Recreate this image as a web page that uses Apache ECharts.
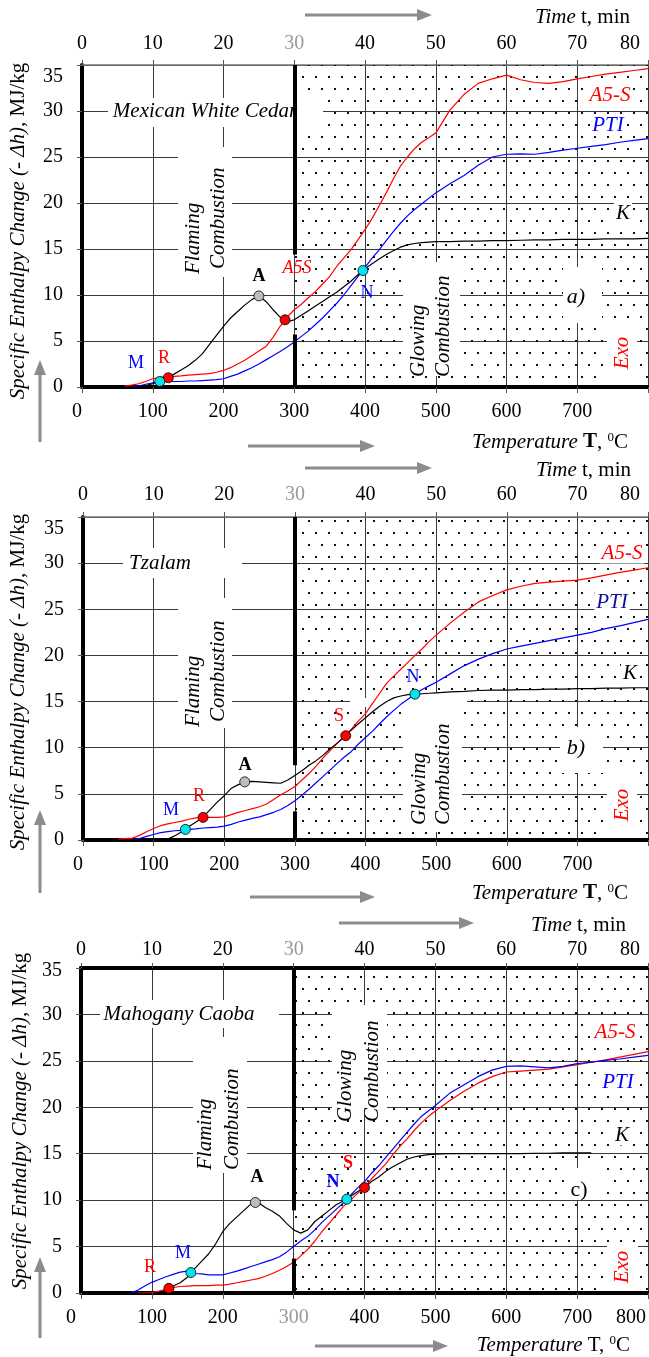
<!DOCTYPE html>
<html>
<head>
<meta charset="utf-8">
<script src="https://cdn.jsdelivr.net/npm/echarts@6.0.0/dist/echarts.min.js"></script>
<style>
html,body{margin:0;padding:0;background:#fff}
#main{width:649px;height:1357px}
</style>
</head>
<body>
<div id="main"></div>
<script>
var FONT = '"Liberation Serif","Times New Roman",serif';

// temperature grid, degC (shared by all three panels)
var temps = [50,60,70,80,90,100,110,120,130,140,
  150,160,170,180,190,200,210,220,230,240,
  250,260,270,280,290,300,310,320,330,340,
  350,360,370,380,390,400,410,420,430,440,
  450,460,470,480,490,500,520,
  540,560,580,600,620,640,660,680,700,720,740,760,780,800];

// a) Mexican White Cedar
var a5sA = [null,0.1,0.2,0.35,0.6,0.9,1.05,1.1,1.15,1.2,
  1.3,1.35,1.4,1.45,1.6,1.8,2.1,2.5,2.9,3.4,
  3.9,4.4,5.4,6.6,7.6,8.4,9.0,9.7,10.4,11.2,
  12.0,13.1,14.0,14.9,16.0,17.1,18.3,19.7,21.1,22.6,
  24.0,25.0,25.9,26.6,27.1,27.6,30.1,
  31.8,33.0,33.5,33.9,33.4,33.1,33.0,33.2,33.5,33.75,34.0,34.2,34.4,34.6];
var ptiA = [null,null,0.0,0.1,0.3,0.45,0.55,0.6,0.6,0.6,
  0.65,0.65,0.7,0.75,0.8,0.9,1.15,1.4,1.75,2.1,
  2.5,2.95,3.4,3.85,4.35,4.9,5.5,6.1,6.8,7.5,
  8.3,9.1,10.0,11.0,12.0,13.0,14.0,14.9,15.9,16.9,
  17.8,18.6,19.3,19.9,20.5,21.1,22.1,
  23.0,24.1,25.0,25.3,25.35,25.3,25.5,25.75,25.95,26.15,26.35,26.6,26.8,27.0];
var kA = [null,null,null,0.0,0.15,0.35,0.6,1.0,1.4,1.85,
  2.3,2.9,3.6,4.6,5.6,6.6,7.5,8.2,8.9,9.5,
  9.9,9.3,8.4,7.6,7.1,7.3,7.8,8.3,8.8,9.3,
  9.8,10.3,10.9,11.5,12.2,12.85,13.4,13.9,14.4,14.8,
  15.2,15.45,15.6,15.7,15.75,15.8,15.8,
  15.85,15.85,15.9,15.9,15.95,16.0,16.0,16.05,16.05,16.05,16.1,16.1,16.1,16.15];
var grayPtsA = [[250,9.9]];
var redPtsA = [[122,1.0],[287,7.3]];
var cyanPtsA = [[110,0.6],[397,12.66]];

// b) Tzalam
var a5sB = [0.1,0.15,0.2,0.5,0.9,1.25,1.55,1.75,1.9,2.05,
  2.25,2.4,2.45,2.45,2.45,2.5,2.75,3.0,3.2,3.4,
  3.6,3.9,4.4,4.9,5.3,5.8,6.5,7.2,8.0,8.9,
  9.7,10.5,11.2,12.0,12.9,13.7,14.8,15.9,17.0,17.75,
  18.5,19.25,20.0,20.7,21.5,22.2,23.5,
  24.7,25.8,26.5,27.1,27.5,27.8,27.95,28.05,28.15,28.4,28.7,29.0,29.25,29.5];
var ptiB = [null,null,0.0,0.15,0.4,0.6,0.8,0.9,1.0,1.05,
  1.15,1.2,1.3,1.35,1.4,1.5,1.7,1.95,2.15,2.35,
  2.5,2.75,3.0,3.3,3.75,4.25,4.85,5.5,6.2,6.9,
  7.6,8.3,9.0,9.6,10.4,11.1,11.8,12.6,13.35,14.05,
  14.7,15.25,15.8,16.3,16.7,17.1,18.0,
  18.9,19.6,20.2,20.7,21.0,21.3,21.6,21.9,22.2,22.5,22.9,23.2,23.55,23.9];
var kB = [null,null,0.0,-0.1,-0.15,-0.1,-0.05,0.1,0.45,0.9,
  1.45,1.95,2.5,3.3,4.1,4.8,5.6,6.0,6.3,6.35,
  6.3,6.25,6.2,6.15,6.5,7.0,7.5,8.1,8.6,9.2,
  9.9,10.5,11.2,11.9,12.6,13.25,13.9,14.5,15.0,15.4,
  15.6,15.75,15.8,15.85,15.9,15.95,16.05,
  16.1,16.2,16.25,16.25,16.3,16.3,16.35,16.35,16.4,16.4,16.45,16.45,16.5,16.5];
var grayPtsB = [[229,6.3]];
var redPtsB = [[170,2.45],[372,11.3]];
var cyanPtsB = [[145,1.15],[470,15.8]];

// c) Mahogany Caoba
var a5sC = [null,null,null,0.0,0.0,0.05,0.2,0.4,0.6,0.7,
  0.75,0.8,0.8,0.8,0.85,0.85,0.95,1.1,1.25,1.4,
  1.55,1.8,2.1,2.45,2.85,3.3,4.0,4.7,5.6,6.6,
  7.5,8.4,9.3,10.0,10.7,11.35,12.3,13.1,13.9,14.9,
  15.8,16.6,17.5,18.3,19.0,19.6,20.7,
  21.7,22.6,23.3,23.8,23.9,24.0,24.1,24.35,24.6,24.85,25.1,25.4,25.7,26.0];
var ptiC = [null,null,0.0,0.3,0.75,1.15,1.45,1.75,2.0,2.25,
  2.35,2.1,2.05,1.95,1.95,1.95,2.15,2.35,2.6,2.85,
  3.1,3.35,3.6,3.9,4.4,5.0,5.6,6.1,6.8,7.6,
  8.3,9.0,9.7,10.5,11.3,12.0,12.9,13.7,14.6,15.5,
  16.4,17.3,18.2,19.0,19.6,20.2,21.5,
  22.4,23.3,24.0,24.4,24.45,24.35,24.25,24.4,24.7,24.85,25.05,25.2,25.4,25.6];
var kC = [null,null,null,null,null,null,0.0,0.35,0.75,1.1,
  1.7,2.6,3.4,4.2,5.3,6.6,7.5,8.2,8.9,9.6,
  9.75,9.2,8.8,8.3,7.5,6.8,6.45,6.8,7.7,8.3,
  8.9,9.5,9.9,10.4,10.9,11.35,12.0,12.5,13.1,13.6,
  14.0,14.4,14.65,14.8,14.9,14.95,15.0,
  15.0,15.0,15.0,15.0,15.0,15.05,15.05,15.1,15.1,15.1,null,null,null,null];
var grayPtsC = [[246,9.75]];
var redPtsC = [[124,0.5],[400,11.35]];
var cyanPtsC = [[155,2.2],[375,10.1]];

function pairs(vals) {
  return temps.map(function (t, i) { return [t, vals[i] == null ? '-' : vals[i]]; });
}

// dotted fill for the glowing zone
var dot = document.createElement('canvas');
dot.width = 13; dot.height = 24;
var g = dot.getContext('2d');
g.fillStyle = '#111';
g.fillRect(3, 4, 2, 2);
g.fillRect(9, 16, 2, 2);

var panels = [
  {grid: {left: 82, top: 65, width: 566, height: 322}, a5s: a5sA, pti: ptiA, k: kA,
   gray: grayPtsA, red: redPtsA, cyan: cyanPtsA, divider: [[35, 14.4], [5.7, 0]],
   thickTop: false, show800: false, gray300: false, pad35: 24, topMargin: 11, pad0: 10},
  {grid: {left: 83, top: 517, width: 565, height: 323}, a5s: a5sB, pti: ptiB, k: kB,
   gray: grayPtsB, red: redPtsB, cyan: cyanPtsB, divider: [[35, 8.1], [3.1, 0]],
   thickTop: false, show800: false, gray300: false, pad35: 24, topMargin: 12, pad0: 10},
  {grid: {left: 81, top: 968, width: 567, height: 325}, a5s: a5sC, pti: ptiC, k: kC,
   gray: grayPtsC, red: redPtsC, cyan: cyanPtsC, divider: [[35, 8.9], [3.7, 0]],
   thickTop: true, show800: true, gray300: true, pad35: 6, topMargin: 8, pad0: 20}
];

function tok(pad) {
  return {fontFamily: FONT, fontSize: 20, color: '#000', padding: pad};
}

var grids = [], xAxes = [], yAxes = [], series = [];
panels.forEach(function (p, i) {
  var gr = Object.assign({outerBoundsMode: 'none', containLabel: false}, p.grid);
  grids.push(gr);
  xAxes.push({
    gridIndex: i, type: 'value', min: 0, max: 800, interval: 100, position: 'bottom',
    axisLine: {lineStyle: {color: '#000', width: 4}},
    axisTick: {length: 6, lineStyle: {color: '#555'}},
    splitLine: {show: true, lineStyle: {color: '#3a3a3a', width: 1}},
    axisLabel: {fontFamily: FONT, fontSize: 20, margin: 15,
      formatter: function (v) {
        if (v === 800) return p.show800 ? '{e|800}' : '';
        if (v === 0) return '{z|0}';
        return String(v);
      },
      rich: {e: tok([0, 34, 0, 0]), z: tok([0, p.pad0, 0, 0])},
      color: function (v) { return (p.gray300 && +v === 300) ? '#999' : '#000'; }}
  });
  xAxes.push({
    gridIndex: i, type: 'value', min: 0, max: 80, interval: 10, position: 'top',
    axisLine: {lineStyle: p.thickTop ? {color: '#000', width: 4} : {color: '#777', width: 1.5}},
    axisTick: {length: 5, lineStyle: {color: '#555'}},
    splitLine: {show: false},
    axisLabel: {fontFamily: FONT, fontSize: 20, margin: p.topMargin,
      formatter: function (v) { return v === 80 ? '{e|80}' : String(v); },
      rich: {e: tok([0, 36, 0, 0])},
      color: function (v) { return +v === 30 ? '#999' : '#000'; }}
  });
  yAxes.push({
    gridIndex: i, type: 'value', min: 0, max: 35, interval: 5,
    axisLine: {show: true, lineStyle: {color: '#000', width: 4}},
    axisTick: {show: true, length: 5, lineStyle: {color: '#555'}},
    splitLine: {show: true, lineStyle: {color: '#3a3a3a', width: 1}},
    axisLabel: {fontFamily: FONT, fontSize: 20, margin: 19, color: '#000',
      formatter: function (v) { return v === 35 ? '{t|35}' : String(v); },
      rich: {t: tok([p.pad35, 0, 0, 0])}}
  });
  var xi = 2 * i;
  series.push({
    type: 'line', xAxisIndex: xi, yAxisIndex: i, data: [], z: 1, silent: true,
    markArea: {silent: true, itemStyle: {color: {image: dot, repeat: 'repeat'}},
      label: {show: false},
      data: [[{coord: [300, 0]}, {coord: [800, 35]}]]},
    markLine: {silent: true, symbol: ['none', 'none'], label: {show: false},
      lineStyle: {color: '#000', width: 4, type: 'solid'},
      data: p.divider.map(function (d) { return [{coord: [300, d[0]]}, {coord: [300, d[1]]}]; })}
  });
  [['A5-S', p.a5s, '#ff0000'], ['PTI', p.pti, '#0000ff'], ['K', p.k, '#000000']].forEach(function (s) {
    series.push({name: s[0], type: 'line', xAxisIndex: xi, yAxisIndex: i, data: pairs(s[1]),
      showSymbol: false, symbol: 'none', z: 3, silent: true,
      lineStyle: {color: s[2], width: 1.2}});
  });
  [[p.gray, '#bdbdbd'], [p.red, '#ff0000'], [p.cyan, '#00e5ee']].forEach(function (s) {
    series.push({type: 'scatter', xAxisIndex: xi, yAxisIndex: i, data: s[0], z: 4, silent: true,
      symbolSize: 10, itemStyle: {color: s[1], borderColor: '#000', borderWidth: 0.8, opacity: 1}});
  });
});

// annotation helpers
function box(x1, y1, x2, y2) {
  return {type: 'rect', z: 2, silent: true, shape: {x: x1, y: y1, width: x2 - x1, height: y2 - y1},
    style: {fill: '#fff'}};
}
function label(s, x, y, o) {
  o = o || {};
  var st = {text: s, fill: o.color || '#000',
    font: (o.italic ? 'italic ' : '') + (o.bold ? 'bold ' : '') + (o.size || 21) + 'px ' + FONT,
    textAlign: o.align || 'center', textVerticalAlign: 'middle'};
  if (o.bg) { st.backgroundColor = '#fff'; st.padding = [0, 2]; }
  return {type: 'text', x: x, y: y, rotation: o.rot ? Math.PI / 2 : 0, z: 5, silent: true, style: st};
}
var richStyles = {
  i: {fontStyle: 'italic', fontSize: 21, fontFamily: FONT, fill: '#000'},
  n: {fontSize: 21, fontFamily: FONT, fill: '#000'},
  b: {fontWeight: 'bold', fontSize: 21, fontFamily: FONT, fill: '#000'},
  s: {fontSize: 13, fontFamily: FONT, fill: '#000', verticalAlign: 'top', padding: [0, 0, 8, 0]}
};
function richText(s, x, y, align, rot) {
  return {type: 'text', x: x, y: y, rotation: rot ? Math.PI / 2 : 0, z: 5, silent: true,
    style: {text: s, rich: richStyles, font: '21px ' + FONT, fill: '#000',
      textAlign: align, textVerticalAlign: 'middle'}};
}
function arrowH(x1, x2, y) {
  return [{type: 'polyline', z: 5, silent: true, shape: {points: [[x1, y], [x2 - 12, y]]},
      style: {stroke: '#8c8c8c', lineWidth: 3}},
    {type: 'polygon', z: 5, silent: true, shape: {points: [[x2 - 15, y - 6], [x2, y], [x2 - 15, y + 6]]},
      style: {fill: '#8c8c8c'}}];
}
function arrowUp(x, yTip, yBottom) {
  return [{type: 'polyline', z: 5, silent: true, shape: {points: [[x, yBottom], [x, yTip + 12]]},
      style: {stroke: '#8c8c8c', lineWidth: 3}},
    {type: 'polygon', z: 5, silent: true, shape: {points: [[x - 6, yTip + 15], [x, yTip], [x + 6, yTip + 15]]},
      style: {fill: '#8c8c8c'}}];
}

var RED = '#ff0000', BLUE = '#0000ff';
var yName = '{i|Specific Enthalpy Change (- Δh), }{n|MJ/kg}';
var timeName = '{i|Time}{n| t, min}';
var els = [];

// panel a
els.push(box(108, 98, 323, 127), box(178, 147, 232, 277), box(563, 267, 602, 323),
  box(403, 262, 460, 376), box(607, 322, 637, 384));
els.push(label('Mexican White Cedar', 205, 111, {italic: true}),
  label('Flaming', 193, 274, {italic: true, rot: true, align: 'left'}),
  label('Combustion', 218, 269, {italic: true, rot: true, align: 'left'}),
  label('Glowing', 418, 377, {italic: true, rot: true, align: 'left'}),
  label('Combustion', 443, 377, {italic: true, rot: true, align: 'left'}),
  label('A', 259, 276, {bold: true, size: 18}),
  label('A5S', 297, 268, {italic: true, size: 18, color: RED}),
  label('M', 136, 363, {size: 18, color: BLUE}),
  label('R', 164, 358, {size: 18, color: RED}),
  label('N', 367, 293, {size: 18, color: BLUE}),
  label('A5-S', 610, 95, {italic: true, color: RED, bg: true}),
  label('PTI', 608, 125, {italic: true, color: BLUE, bg: true}),
  label('K', 623, 213, {italic: true, bg: true}),
  label('a)', 576, 297, {italic: true, size: 22}),
  label('Exo', 622, 353, {italic: true, color: RED, rot: true}),
  richText(timeName, 630, 17, 'right'),
  richText('{i|Temperature} {b|T}{n|, }{s|0}{n|C}', 628, 442, 'right'),
  richText(yName, 18, 231, 'center', true));
els = els.concat(arrowH(305, 432, 15), arrowH(248, 375, 446), arrowUp(40, 360, 442));

// panel b
els.push(box(123, 548, 242, 578), box(178, 598, 232, 728), box(560, 727, 603, 773),
  box(403, 693, 462, 832), box(350, 698, 467, 707), box(607, 772, 637, 835));
els.push(label('Tzalam', 160, 563, {italic: true}),
  label('Flaming', 193, 727, {italic: true, rot: true, align: 'left'}),
  label('Combustion', 218, 722, {italic: true, rot: true, align: 'left'}),
  label('Glowing', 419, 825, {italic: true, rot: true, align: 'left'}),
  label('Combustion', 443, 825, {italic: true, rot: true, align: 'left'}),
  label('A', 245, 765, {bold: true, size: 18}),
  label('R', 199, 796, {size: 18, color: RED}),
  label('M', 171, 810, {size: 18, color: BLUE}),
  label('S', 339, 716, {size: 18, color: RED}),
  label('N', 413, 677, {size: 18, color: BLUE}),
  label('A5-S', 622, 553, {italic: true, color: RED, bg: true}),
  label('PTI', 612, 602, {italic: true, color: '#1010a0', bg: true}),
  label('K', 630, 673, {italic: true, bg: true}),
  label('b)', 576, 748, {italic: true, size: 22}),
  label('Exo', 622, 805, {italic: true, color: RED, rot: true}),
  richText(timeName, 631, 470, 'right'),
  richText('{i|Temperature} {b|T}{n|, }{s|0}{n|C}', 628, 893, 'right'),
  richText(yName, 18, 682, 'center', true));
els = els.concat(arrowH(305, 432, 468), arrowH(250, 375, 897), arrowUp(40, 810, 893));

// panel c
els.push(box(100, 1000, 279, 1028), box(193, 1037, 247, 1173), box(567, 1168, 605, 1200),
  box(332, 1005, 387, 1115), box(607, 1243, 638, 1290));
els.push(label('Mahogany Caoba', 179, 1014, {italic: true}),
  label('Flaming', 205, 1170, {italic: true, rot: true, align: 'left'}),
  label('Combustion', 232, 1170, {italic: true, rot: true, align: 'left'}),
  label('Glowing', 345, 1122, {italic: true, rot: true, align: 'left'}),
  label('Combustion', 372, 1122, {italic: true, rot: true, align: 'left'}),
  label('A', 257, 1177, {bold: true, size: 18}),
  label('R', 150, 1267, {size: 18, color: RED}),
  label('M', 183, 1253, {size: 18, color: BLUE}),
  label('N', 333, 1182, {bold: true, size: 18, color: BLUE}),
  label('S', 348, 1163, {bold: true, size: 18, color: RED}),
  label('A5-S', 615, 1032, {italic: true, color: RED, bg: true}),
  label('PTI', 618, 1082, {italic: true, color: BLUE, bg: true}),
  label('K', 622, 1135, {italic: true, bg: true}),
  label('c)', 579, 1190, {size: 22}),
  label('Exo', 622, 1267, {italic: true, color: RED, rot: true}),
  richText(timeName, 626, 925, 'right'),
  richText('{i|Temperature} {n|T, }{s|0}{n|C}', 630, 1345, 'right'),
  richText(yName, 20, 1121, 'center', true));
els = els.concat(arrowH(339, 474, 923), arrowH(315, 448, 1346), arrowUp(40, 1257, 1338));

var chart = echarts.init(document.getElementById('main'), null, {renderer: 'canvas'});
chart.setOption({
  animation: false,
  backgroundColor: '#fff',
  grid: grids,
  xAxis: xAxes,
  yAxis: yAxes,
  series: series,
  graphic: {elements: els}
});
</script>
</body>
</html>
